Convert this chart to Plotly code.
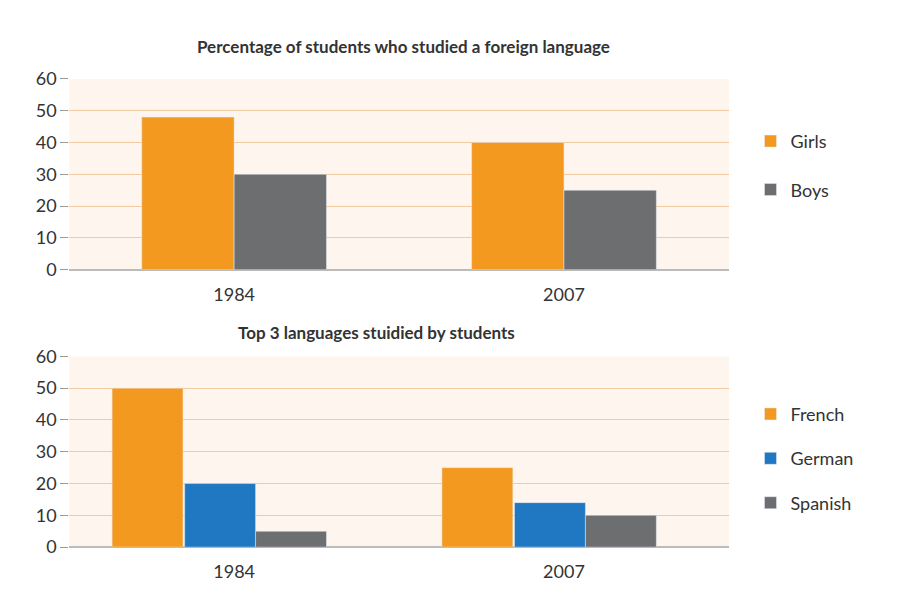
import plotly.graph_objects as go

years = ["1984", "2007"]
girls = [48, 40]
boys = [30, 25]
french = [50, 25]
german = [20, 14]
spanish = [5, 10]
yticks = [0, 10, 20, 30, 40, 50, 60]

ORANGE = "#f4991f"
GREY = "#6d6e70"
BLUE = "#1f78c1"

fig = go.Figure()
fig.add_bar(x=years, y=girls, name="Girls", marker_color=ORANGE, xaxis="x", yaxis="y", legend="legend", legendgroup="a", width=0.28, offset=-0.28)
fig.add_bar(x=years, y=boys, name="Boys", marker_color=GREY, xaxis="x", yaxis="y", legend="legend", legendgroup="b", width=0.28, offset=0)
fig.add_bar(x=years, y=french, name="French", marker_color=ORANGE, xaxis="x2", yaxis="y2", legend="legend2", legendgroup="c", width=0.215, offset=-0.37)
fig.add_bar(x=years, y=german, name="German", marker_color=BLUE, xaxis="x2", yaxis="y2", legend="legend2", legendgroup="d", width=0.215, offset=-0.15)
fig.add_bar(x=years, y=spanish, name="Spanish", marker_color=GREY, xaxis="x2", yaxis="y2", legend="legend2", legendgroup="e", width=0.215, offset=0.065)

font = dict(family="Lato, Open Sans, sans-serif", size=18, color="#333")
ax = dict(showline=False, ticks="", tickfont=font, showgrid=False, ticklabelstandoff=12)
yax = dict(range=[0, 60], tickvals=yticks, showgrid=True, gridcolor="#f2c9a0", gridwidth=1.2,
           zeroline=True, zerolinecolor="#bbb", tickfont=font, ticks="outside",
           tickcolor="#999", ticklen=8, showline=False)

fig.update_layout(
    width=900, height=600, margin=dict(l=0, r=0, t=0, b=0),
    paper_bgcolor="white", plot_bgcolor="#fdf5ee",
    barmode="overlay",
    xaxis=dict(domain=[0.068, 0.801], anchor="y", **ax),
    yaxis=dict(domain=[0.568, 0.898], anchor="x", **yax),
    xaxis2=dict(domain=[0.068, 0.801], anchor="y2", **ax),
    yaxis2=dict(domain=[0.088, 0.418], anchor="x2", **yax),
    legend=dict(x=0.825, y=0.822, yanchor="top", font=font, tracegroupgap=22,
                bgcolor="rgba(0,0,0,0)"),
    legend2=dict(x=0.825, y=0.35, yanchor="top", font=font, tracegroupgap=18, bgcolor="rgba(0,0,0,0)"),
    showlegend=True,
    annotations=[
        dict(text="<b>Percentage of students who studied a foreign language</b>", x=395/900, y=0.975,
             xref="paper", yref="paper", showarrow=False, font=dict(family="Lato, sans-serif", size=17, color="#333")),
        dict(text="<b>Top 3 languages stuidied by students</b>", x=368/900, y=0.46,
             xref="paper", yref="paper", showarrow=False, font=dict(family="Lato, sans-serif", size=17, color="#333")),
    ],
)
fig.write_html("out.html")
